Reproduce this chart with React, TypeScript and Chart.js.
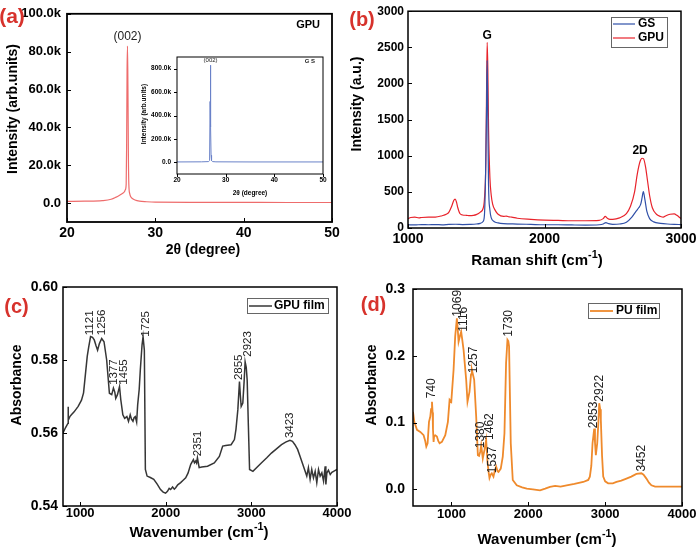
import React, { useEffect, useRef } from 'react';
import { Chart, registerables } from 'chart.js';
Chart.register(...registerables);

const PAGE_W = 700;
const PAGE_H = 553;
const FF = 'Arial, "Liberation Sans", Helvetica, sans-serif';
const RED_LETTER = '#d7322c';

// ---------- (a) XRD of GPU ----------
const xrdGpuAngle = [20, 22, 24, 25, 25.5, 26, 26.3, 26.5, 26.6, 26.7, 26.75, 26.8, 26.85, 26.9, 26.95, 27.0, 27.1, 27.2, 27.4, 27.7, 28.2, 29, 30, 35, 40, 45, 50];
const xrdGpuIntensity = [900, 1000, 1300, 2000, 3000, 4300, 5200, 6000, 7000, 10000, 30000, 70000, 83000, 60000, 25000, 10000, 5000, 3500, 2400, 1600, 1000, 700, 500, 400, 350, 300, 300];
const xrdTicksX = [20, 30, 40, 50];
const xrdTicksY = [0, 20000, 40000, 60000, 80000, 100000];

// ---------- (a) inset: XRD of GS ----------
const xrdGsAngle = [20, 25, 26.5, 26.7, 26.8, 26.85, 26.9, 26.95, 27.0, 27.1, 27.3, 28, 35, 50];
const xrdGsIntensity = [3000, 4000, 6000, 15000, 520000, 530000, 830000, 300000, 60000, 15000, 6000, 4000, 3000, 3000];
const insetTicksY = [0, 200000, 400000, 600000, 800000];

// ---------- (b) Raman ----------
const ramanGsShift = [1000, 1050, 1100, 1150, 1200, 1250, 1300, 1350, 1400, 1450, 1500, 1530, 1550, 1560, 1568, 1575, 1580, 1585, 1590, 1600, 1610, 1630, 1660, 1700, 1800, 1900, 2000, 2100, 2200, 2300, 2400, 2430, 2450, 2470, 2500, 2550, 2600, 2640, 2670, 2690, 2705, 2715, 2724, 2735, 2750, 2770, 2800, 2850, 2900, 2950, 3000];
const ramanGsIntensity = [45, 42, 48, 45, 47, 44, 50, 52, 48, 50, 55, 65, 90, 180, 700, 1570, 2320, 1500, 600, 250, 140, 90, 70, 60, 55, 50, 45, 45, 42, 40, 45, 55, 75, 60, 50, 55, 80, 150, 230, 280, 330, 420, 505, 400, 230, 130, 85, 65, 55, 50, 48];
const ramanGpuShift = [1000, 1020, 1050, 1080, 1100, 1150, 1200, 1250, 1280, 1300, 1320, 1335, 1345, 1355, 1365, 1380, 1400, 1430, 1450, 1480, 1500, 1530, 1550, 1560, 1570, 1575, 1580, 1585, 1590, 1600, 1610, 1620, 1640, 1660, 1700, 1720, 1740, 1760, 1800, 1900, 2000, 2100, 2200, 2300, 2400, 2430, 2445, 2460, 2480, 2500, 2550, 2600, 2630, 2660, 2680, 2700, 2715, 2725, 2740, 2755, 2770, 2790, 2820, 2850, 2870, 2890, 2920, 2950, 2970, 2990, 3000];
const ramanGpuIntensity = [130, 145, 150, 140, 145, 150, 150, 170, 190, 220, 300, 380, 400, 360, 280, 200, 180, 175, 170, 175, 185, 220, 270, 400, 900, 1800, 2570, 2200, 1400, 700, 450, 330, 240, 190, 160, 165, 155, 150, 135, 120, 110, 105, 100, 100, 105, 130, 160, 135, 120, 120, 140, 200, 300, 500, 750, 920, 965, 960, 850, 650, 450, 280, 190, 160, 150, 170, 190, 195, 175, 145, 130];
const ramanTicksX = [1000, 2000, 3000];
const ramanTicksY = [0, 500, 1000, 1500, 2000, 2500, 3000];

// ---------- (c) FTIR GPU film ----------
const ftirGpuWave = [800, 830, 859, 860, 862, 880, 898, 930, 977, 1016, 1040, 1055, 1083, 1100, 1122, 1145, 1165, 1185, 1204, 1225, 1252, 1279, 1310, 1342, 1369, 1389, 1405, 1416, 1436, 1460, 1475, 1499, 1520, 1546, 1565, 1585, 1600, 1617, 1630, 1644, 1660, 1672, 1690, 1703, 1723, 1735, 1750, 1762, 1782, 1820, 1860, 1900, 1939, 1970, 1998, 2020, 2040, 2057, 2080, 2100, 2116, 2140, 2174, 2200, 2233, 2260, 2292, 2323, 2335, 2350, 2360, 2370, 2390, 2420, 2488, 2567, 2626, 2665, 2700, 2763, 2802, 2820, 2842, 2861, 2872, 2881, 2900, 2915, 2927, 2940, 2951, 2965, 2979, 3018, 3060, 3116, 3180, 3234, 3300, 3352, 3400, 3450, 3480, 3509, 3540, 3568, 3608, 3647, 3666, 3686, 3705, 3725, 3745, 3764, 3784, 3803, 3823, 3843, 3862, 3870, 3882, 3900, 3921, 3940, 3960, 4000];
const ftirGpuAbs = [0.5600, 0.5615, 0.5627, 0.5672, 0.5635, 0.5645, 0.5650, 0.5658, 0.5673, 0.5690, 0.5710, 0.5745, 0.5810, 0.5835, 0.5864, 0.5862, 0.5855, 0.5840, 0.5827, 0.5845, 0.5859, 0.5850, 0.5800, 0.5709, 0.5705, 0.5723, 0.5712, 0.5695, 0.5705, 0.5727, 0.5691, 0.5650, 0.5640, 0.5645, 0.5632, 0.5650, 0.5638, 0.5632, 0.5642, 0.5645, 0.5630, 0.5677, 0.5720, 0.5773, 0.5841, 0.5864, 0.5827, 0.5500, 0.5482, 0.5478, 0.5473, 0.5460, 0.5445, 0.5438, 0.5435, 0.5440, 0.5448, 0.5445, 0.5452, 0.5446, 0.5450, 0.5458, 0.5464, 0.5470, 0.5477, 0.5490, 0.5514, 0.5527, 0.5518, 0.5523, 0.5518, 0.5532, 0.5505, 0.5507, 0.5509, 0.5518, 0.5536, 0.5564, 0.5566, 0.5568, 0.5582, 0.5610, 0.5664, 0.5741, 0.5700, 0.5673, 0.5682, 0.5740, 0.5795, 0.5780, 0.5745, 0.5620, 0.5500, 0.5495, 0.5505, 0.5518, 0.5532, 0.5545, 0.5558, 0.5568, 0.5575, 0.5580, 0.5577, 0.5568, 0.5555, 0.5536, 0.5509, 0.5482, 0.5505, 0.5473, 0.5500, 0.5477, 0.5495, 0.5464, 0.5500, 0.5482, 0.5491, 0.5468, 0.5509, 0.5459, 0.5491, 0.5498, 0.5486, 0.5492, 0.5495, 0.5500];
const ftirGpuPeaks = ['1121', '1256', '1377', '1455', '1725', '2351', '2855', '2923', '3423'];
const ftirGpuPeakX = [1114, 1252, 1389, 1507, 1762, 2370, 2849, 2959, 3450];
const ftirGpuPeakY = [0.5868, 0.5868, 0.5732, 0.5732, 0.5864, 0.5536, 0.5745, 0.5809, 0.5586];
const ftirGpuTicksX = [1000, 2000, 3000, 4000];
const ftirGpuTicksY = [0.54, 0.56, 0.58, 0.6];

// ---------- (d) FTIR PU film ----------
const ftirPuWave = [500, 517, 552, 595, 638, 660, 673, 690, 708, 725, 735, 747, 755, 760, 768, 775, 790, 811, 830, 846, 876, 920, 954, 976, 998, 1028, 1049, 1071, 1082, 1093, 1114, 1127, 1140, 1158, 1192, 1209, 1235, 1255, 1266, 1280, 1296, 1322, 1344, 1360, 1374, 1387, 1408, 1430, 1452, 1469, 1485, 1495, 1510, 1525, 1547, 1565, 1582, 1600, 1612, 1642, 1668, 1690, 1711, 1729, 1740, 1750, 1772, 1798, 1850, 1920, 1980, 2060, 2153, 2220, 2282, 2350, 2420, 2499, 2600, 2715, 2780, 2801, 2820, 2836, 2858, 2868, 2879, 2897, 2912, 2923, 2935, 2944, 2960, 2975, 3000, 3039, 3100, 3148, 3210, 3277, 3340, 3407, 3472, 3500, 3537, 3570, 3602, 3650, 3710, 3800, 3900, 4000];
const ftirPuAbs = [0.116, 0.101, 0.089, 0.086, 0.081, 0.072, 0.064, 0.069, 0.101, 0.109, 0.120, 0.131, 0.115, 0.090, 0.071, 0.080, 0.081, 0.079, 0.072, 0.069, 0.071, 0.081, 0.101, 0.134, 0.131, 0.179, 0.229, 0.256, 0.240, 0.221, 0.231, 0.236, 0.225, 0.209, 0.164, 0.131, 0.146, 0.172, 0.179, 0.172, 0.164, 0.109, 0.051, 0.050, 0.056, 0.066, 0.046, 0.059, 0.074, 0.041, 0.025, 0.017, 0.022, 0.024, 0.019, 0.028, 0.034, 0.027, 0.026, 0.031, 0.049, 0.084, 0.189, 0.224, 0.222, 0.214, 0.069, 0.014, 0.006, 0.003, 0.001, 0.000, -0.0015, 0.001, 0.0035, 0.005, 0.004, 0.006, 0.008, 0.011, 0.014, 0.019, 0.035, 0.069, 0.091, 0.070, 0.051, 0.069, 0.100, 0.129, 0.120, 0.104, 0.050, 0.019, 0.012, 0.009, 0.009, 0.011, 0.013, 0.016, 0.019, 0.023, 0.024, 0.022, 0.016, 0.010, 0.006, 0.004, 0.004, 0.004, 0.004, 0.004];
const ftirPuPeaks = ['740', '1069', '1116', '1257', '1380', '1462', '1537', '1730', '2853', '2922', '3452'];
const ftirPuPeakX = [747, 1080, 1166, 1296, 1382, 1504, 1538, 1742, 2853, 2931, 3480];
const ftirPuPeakY = [0.1363, 0.2586, 0.2361, 0.1737, 0.0615, 0.0739, 0.024, 0.2286, 0.0914, 0.1313, 0.0265];
const ftirPuTicksX = [1000, 2000, 3000, 4000];
const ftirPuTicksY = [0, 0.1, 0.2, 0.3];

// ---------- helpers ----------
const zip = (xs: number[], ys: number[]) => xs.map((x, i) => ({ x, y: ys[i] }));

type TextSpec = {
  text: string; x: number; y: number; size: number; bold?: boolean; color?: string;
  align?: CanvasTextAlign; rotate?: boolean; sup?: string; tail?: string;
};
type DataText = { text: string; x: number; y: number; size: number; bold?: boolean; rotate?: boolean; color?: string };
type LegendSpec = {
  box: [number, number, number, number]; x0: number; x1: number; tx: number; size: number;
  items: Array<{ label: string; color: string; y: number; width: number }>;
};
type Deco = { frame: number; tickLen: number; texts: TextSpec[]; dataTexts: DataText[]; legend?: LegendSpec };

function fontStr(size: number, bold?: boolean) {
  return `${bold ? 'bold ' : ''}${size}px ${FF}`;
}

function drawText(ctx: CanvasRenderingContext2D, t: TextSpec) {
  ctx.save();
  ctx.translate(t.x, t.y);
  if (t.rotate) ctx.rotate(-Math.PI / 2);
  ctx.fillStyle = t.color || '#000';
  ctx.textBaseline = 'middle';
  if (!t.sup) {
    ctx.font = fontStr(t.size, t.bold);
    ctx.textAlign = t.align || 'center';
    ctx.fillText(t.text, 0, 0);
  } else {
    const supSize = t.size * 0.72;
    ctx.font = fontStr(t.size, t.bold);
    const w1 = ctx.measureText(t.text).width;
    const w3 = ctx.measureText(t.tail || '').width;
    ctx.font = fontStr(supSize, t.bold);
    const w2 = ctx.measureText(t.sup).width;
    let x = -(w1 + w2 + w3) / 2;
    ctx.textAlign = 'left';
    ctx.font = fontStr(t.size, t.bold);
    ctx.fillText(t.text, x, 0);
    x += w1;
    ctx.font = fontStr(supSize, t.bold);
    ctx.fillText(t.sup, x, -t.size * 0.38);
    x += w2;
    ctx.font = fontStr(t.size, t.bold);
    ctx.fillText(t.tail || '', x, 0);
  }
  ctx.restore();
}

function makeDeco(id: string, d: Deco) {
  return {
    id,
    afterDraw(chart: any) {
      const ctx: CanvasRenderingContext2D = chart.ctx;
      const a = chart.chartArea;
      const xs = chart.scales.x;
      const ys = chart.scales.y;
      ctx.save();
      ctx.strokeStyle = '#000';
      ctx.lineWidth = d.frame;
      ctx.strokeRect(a.left, a.top, a.right - a.left, a.bottom - a.top);
      ctx.lineWidth = 1;
      ctx.beginPath();
      xs.ticks.forEach((t: any) => {
        const px = Math.round(xs.getPixelForValue(t.value)) + 0.5;
        ctx.moveTo(px, a.bottom);
        ctx.lineTo(px, a.bottom - d.tickLen);
      });
      ys.ticks.forEach((t: any) => {
        const py = Math.round(ys.getPixelForValue(t.value)) + 0.5;
        ctx.moveTo(a.left, py);
        ctx.lineTo(a.left + d.tickLen, py);
      });
      ctx.stroke();
      d.dataTexts.forEach((t) => {
        ctx.save();
        ctx.translate(xs.getPixelForValue(t.x), ys.getPixelForValue(t.y));
        ctx.font = fontStr(t.size, t.bold);
        ctx.fillStyle = t.color || '#222';
        ctx.textBaseline = 'middle';
        if (t.rotate) {
          ctx.rotate(-Math.PI / 2);
          ctx.textAlign = 'left';
        } else {
          ctx.textAlign = 'center';
        }
        ctx.fillText(t.text, 0, 0);
        ctx.restore();
      });
      if (d.legend) {
        const L = d.legend;
        ctx.strokeStyle = '#666';
        ctx.lineWidth = 1;
        ctx.strokeRect(L.box[0] + 0.5, L.box[1] + 0.5, L.box[2], L.box[3]);
        L.items.forEach((it) => {
          ctx.strokeStyle = it.color;
          ctx.lineWidth = it.width;
          ctx.beginPath();
          ctx.moveTo(L.x0, it.y);
          ctx.lineTo(L.x1, it.y);
          ctx.stroke();
          ctx.fillStyle = '#000';
          ctx.font = fontStr(L.size, true);
          ctx.textAlign = 'left';
          ctx.textBaseline = 'middle';
          ctx.fillText(it.label, L.tx, it.y);
        });
      }
      d.texts.forEach((t) => drawText(ctx, t));
      ctx.restore();
    },
  };
}

type AxisSpec = {
  min: number; max: number; ticks: number[]; size: number; pad: number; bold?: boolean;
  fmt: (v: number) => string;
};

function buildConfig(opts: {
  id: string;
  area: { left: number; top: number; right: number; bottom: number };
  datasets: any[];
  x: AxisSpec; y: AxisSpec; deco: Deco;
}) {
  const YW = 60;
  const XH = 40;
  const { area } = opts;
  const axis = (s: AxisSpec, isX: boolean) => ({
    type: 'linear',
    min: s.min,
    max: s.max,
    afterBuildTicks: (sc: any) => {
      sc.ticks = s.ticks.map((v) => ({ value: v }));
    },
    afterFit: (sc: any) => {
      if (isX) sc.height = XH;
      else sc.width = YW;
    },
    grid: { display: false, drawTicks: false, tickLength: 0 },
    border: { display: false },
    ticks: {
      autoSkip: false,
      maxRotation: 0,
      minRotation: 0,
      padding: s.pad,
      color: '#000',
      font: { family: FF, size: s.size, weight: s.bold === false ? 'normal' : 'bold', lineHeight: 1.2 },
      callback: (v: any) => s.fmt(Number(v)),
    },
  });
  return {
    type: 'line',
    data: { datasets: opts.datasets },
    options: {
      responsive: false,
      maintainAspectRatio: false,
      devicePixelRatio: 1,
      animation: false,
      layout: {
        padding: {
          left: area.left - YW,
          top: area.top,
          right: PAGE_W - area.right,
          bottom: PAGE_H - area.bottom - XH,
        },
      },
      plugins: { legend: { display: false }, tooltip: { enabled: false } },
      elements: { point: { radius: 0 } },
      scales: { x: axis(opts.x, true), y: axis(opts.y, false) },
    },
    plugins: [makeDeco(opts.id, opts.deco)],
  };
}

const kFmt = (v: number) => (v === 0 ? '0.0' : (v / 1000).toFixed(1) + 'k');

function line(data: any[], color: string, width: number, smooth: boolean) {
  return {
    data,
    borderColor: color,
    backgroundColor: color,
    borderWidth: width,
    pointRadius: 0,
    fill: false,
    tension: 0,
    cubicInterpolationMode: smooth ? 'monotone' : 'default',
  };
}

const configs = [
  // (a)
  buildConfig({
    id: 'decoA',
    area: { left: 67, top: 7, right: 332, bottom: 222 },
    datasets: [line(zip(xrdGpuAngle, xrdGpuIntensity), '#ee6c6c', 1.2, true)],
    x: { min: 20, max: 50, ticks: xrdTicksX, size: 14, pad: 3, fmt: (v) => String(v) },
    y: { min: -10000, max: 100000, ticks: xrdTicksY, size: 13, pad: 6, fmt: kFmt },
    deco: {
      frame: 1.8,
      tickLen: 4,
      texts: [
        { text: '(a)', x: 12, y: 17, size: 21, bold: true, color: RED_LETTER },
        { text: 'Intensity (arb.units)', x: 13.5, y: 109, size: 14, bold: true, rotate: true },
        { text: '2θ (degree)', x: 203, y: 250, size: 14, bold: true },
      ],
      dataTexts: [
        { text: '(002)', x: 26.85, y: 88000, size: 12, color: '#222' },
        { text: 'GPU', x: 47.3, y: 94000, size: 11, bold: true, color: '#000' },
      ],
    },
  }),
  // (a) inset
  buildConfig({
    id: 'decoInset',
    area: { left: 177, top: 57, right: 323, bottom: 174 },
    datasets: [line(zip(xrdGsAngle, xrdGsIntensity), '#6a82c8', 1, false)],
    x: { min: 20, max: 50, ticks: xrdTicksX, size: 6.5, pad: 2, fmt: (v) => String(v) },
    y: { min: -100000, max: 900000, ticks: insetTicksY, size: 6.5, pad: 6, fmt: kFmt },
    deco: {
      frame: 1,
      tickLen: -3,
      texts: [
        { text: 'Intensity (arb.units)', x: 144, y: 114, size: 6.5, bold: true, rotate: true },
        { text: '2θ (degree)', x: 250, y: 193, size: 6.5, bold: true },
      ],
      dataTexts: [
        { text: '(002)', x: 26.9, y: 870000, size: 6, color: '#222' },
        { text: 'G S', x: 47.3, y: 860000, size: 6, bold: true, color: '#222' },
      ],
    },
  }),
  // (b)
  buildConfig({
    id: 'decoB',
    area: { left: 408, top: 8, right: 681, bottom: 228 },
    datasets: [
      line(zip(ramanGsShift, ramanGsIntensity), '#3050a8', 1.2, true),
      line(zip(ramanGpuShift, ramanGpuIntensity), '#e8232b', 1.2, true),
    ],
    x: { min: 1000, max: 3000, ticks: ramanTicksX, size: 14, pad: 3, fmt: (v) => String(v) },
    y: { min: 0, max: 3000, ticks: ramanTicksY, size: 12, pad: 4, fmt: (v) => String(v) },
    deco: {
      frame: 1.5,
      tickLen: 4,
      texts: [
        { text: '(b)', x: 362, y: 20, size: 20, bold: true, color: RED_LETTER },
        { text: 'Intensity (a.u.)', x: 357, y: 104, size: 14, bold: true, rotate: true },
        { text: 'Raman shift (cm', sup: '-1', tail: ')', x: 537, y: 261, size: 15, bold: true },
      ],
      dataTexts: [
        { text: 'G', x: 1580, y: 2660, size: 12, bold: true, color: '#000' },
        { text: '2D', x: 2700, y: 1070, size: 12, bold: true, color: '#000' },
      ],
      legend: {
        box: [611, 17, 56, 30], x0: 613, x1: 635, tx: 638, size: 12,
        items: [
          { label: 'GS', color: '#3050a8', y: 24, width: 1.2 },
          { label: 'GPU', color: '#e8232b', y: 38, width: 1.2 },
        ],
      },
    },
  }),
  // (c)
  buildConfig({
    id: 'decoC',
    area: { left: 63, top: 287, right: 337, bottom: 506 },
    datasets: [line(zip(ftirGpuWave, ftirGpuAbs), '#363636', 1.5, false)],
    x: { min: 800, max: 4000, ticks: ftirGpuTicksX, size: 13, pad: 0, fmt: (v) => String(v) },
    y: { min: 0.54, max: 0.6, ticks: ftirGpuTicksY, size: 14, pad: 5, fmt: (v) => v.toFixed(2) },
    deco: {
      frame: 1.5,
      tickLen: 4,
      texts: [
        { text: '(c)', x: 16.5, y: 307, size: 20, bold: true, color: RED_LETTER },
        { text: 'Absorbance', x: 17, y: 385, size: 14, bold: true, rotate: true },
        { text: 'Wavenumber (cm', sup: '-1', tail: ')', x: 199, y: 533, size: 15, bold: true },
      ],
      dataTexts: ftirGpuPeaks.map((t, i) => ({ text: t, x: ftirGpuPeakX[i], y: ftirGpuPeakY[i], size: 11.5, rotate: true, color: '#222' })),
      legend: {
        box: [247, 298, 81, 15], x0: 249, x1: 272, tx: 274, size: 12,
        items: [{ label: 'GPU film', color: '#363636', y: 306, width: 1.5 }],
      },
    },
  }),
  // (d)
  buildConfig({
    id: 'decoD',
    area: { left: 413, top: 289, right: 682, bottom: 506 },
    datasets: [line(zip(ftirPuWave, ftirPuAbs), '#ef8a2c', 1.8, false)],
    x: { min: 500, max: 4000, ticks: ftirPuTicksX, size: 13, pad: 1, fmt: (v) => String(v) },
    y: { min: -0.025, max: 0.3, ticks: ftirPuTicksY, size: 14, pad: 8, fmt: (v) => v.toFixed(1) },
    deco: {
      frame: 1.5,
      tickLen: 4,
      texts: [
        { text: '(d)', x: 373.5, y: 305, size: 20, bold: true, color: RED_LETTER },
        { text: 'Absorbance', x: 372, y: 385, size: 14, bold: true, rotate: true },
        { text: 'Wavenumber (cm', sup: '-1', tail: ')', x: 547, y: 540, size: 15, bold: true },
      ],
      dataTexts: ftirPuPeaks.map((t, i) => ({ text: t, x: ftirPuPeakX[i], y: ftirPuPeakY[i], size: 12, rotate: true, color: '#222' })),
      legend: {
        box: [588, 303, 71, 15], x0: 590, x1: 613, tx: 616, size: 12,
        items: [{ label: 'PU film', color: '#ef8a2c', y: 311, width: 1.8 }],
      },
    },
  }),
];

function ChartLayer({ config }: { config: any }) {
  const ref = useRef<HTMLCanvasElement>(null);
  useEffect(() => {
    const chart = new Chart(ref.current as HTMLCanvasElement, config);
    return () => chart.destroy();
  }, [config]);
  return (
    <canvas
      ref={ref}
      width={PAGE_W}
      height={PAGE_H}
      style={{ position: 'absolute', left: 0, top: 0, width: PAGE_W, height: PAGE_H }}
    />
  );
}

export default function App() {
  return (
    <div style={{ position: 'fixed', left: 0, top: 0, width: PAGE_W, height: PAGE_H, background: '#fff', overflow: 'hidden' }}>
      {configs.map((c, i) => (
        <ChartLayer key={i} config={c} />
      ))}
    </div>
  );
}
